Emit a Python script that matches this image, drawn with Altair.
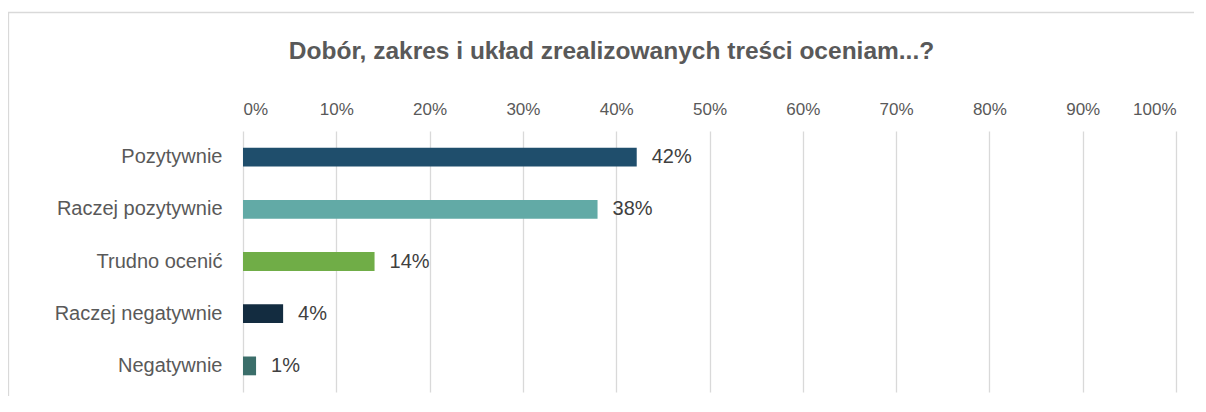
import altair as alt
import pandas as pd

categories = ["Pozytywnie", "Raczej pozytywnie", "Trudno ocenić", "Raczej negatywnie", "Negatywnie"]
values = [42.2, 38.0, 14.1, 4.3, 1.4]
colors = ["#1F4E6C", "#62AAA6", "#70AD47", "#132C40", "#3B6E6A"]
x_ticks = [0, 10, 20, 30, 40, 50, 60, 70, 80, 90, 100]
title_text = "Dobór, zakres i układ zrealizowanych treści oceniam...?"

FONT = "Liberation Sans, Arial, sans-serif"

df = pd.DataFrame({"kat": categories, "val": values, "col": colors})
df["lab"] = [f"{round(v):.0f}%" for v in values]

W, H = 933, 261

x_enc = alt.X(
    "val:Q",
    scale=alt.Scale(domain=[0, 100], nice=False),
    axis=alt.Axis(
        orient="top", values=x_ticks, labelExpr="datum.value + '%'",
        title=None, domain=False, ticks=False, grid=True,
        gridColor="#D9D9D9", gridWidth=1.3,
        labelFont=FONT, labelFontSize=17, labelColor="#595959", labelPadding=13,
    ),
)
y_enc = alt.Y(
    "kat:N", sort=categories,
    scale=alt.Scale(paddingInner=0.64, paddingOuter=0.32),
    axis=alt.Axis(
        title=None, domain=False, ticks=False, labelLimit=0,
        labelFont=FONT, labelFontSize=20, labelColor="#595959", labelPadding=21,
    ),
)

bars = alt.Chart(df).mark_bar().encode(
    x=x_enc, y=y_enc, color=alt.Color("col:N", scale=None)
)
texts = alt.Chart(df).mark_text(
    align="left", baseline="middle", dx=15, font=FONT, fontSize=20, color="#404040"
).encode(x="val:Q", y=alt.Y("kat:N", sort=categories), text="lab:N")

border = alt.Chart(pd.DataFrame({"a": [0]})).mark_rect(
    fill="transparent", stroke="#D9D9D9", strokeWidth=1.3
).encode(
    x=alt.value(-234.5), x2=alt.value(W + 60),
    y=alt.value(-118.5), y2=alt.value(H + 40),
)

chart = alt.layer(border, bars, texts).properties(
    width=W, height=H,
    padding={"left": 235, "top": 123, "right": 18, "bottom": 4},
    autosize=alt.AutoSizeParams(type="none"),
    title=alt.TitleParams(
        title_text, anchor="middle", frame="group", dx=-98, offset=-72,
        baseline="alphabetic",
        font=FONT, fontSize=24.5, fontWeight="bold", color="#595959",
    ),
).configure_view(stroke=None)

chart.save("out.html", embed_options={"renderer": "svg", "actions": False})
